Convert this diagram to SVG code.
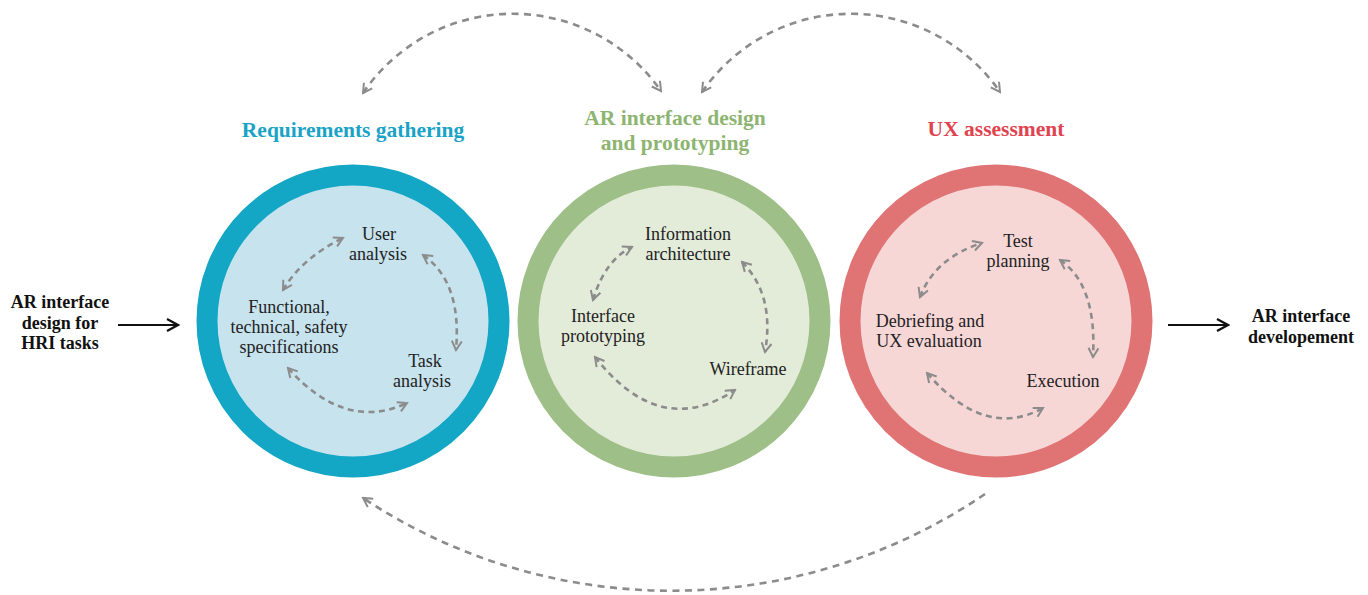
<svg xmlns="http://www.w3.org/2000/svg" width="1368" height="595" viewBox="0 0 1368 595">
<defs>
<style>
.in{font-family:"Liberation Serif",serif;font-size:18px;fill:#222;text-anchor:middle}
.io{font-family:"Liberation Serif",serif;font-size:18px;font-weight:bold;fill:#111;text-anchor:middle}
.ti{font-family:"Liberation Serif",serif;font-size:21.5px;font-weight:bold;text-anchor:middle}
.dash{fill:none;stroke:#8c8c8c;stroke-width:2.6;stroke-dasharray:6 4.5}
.big{fill:none;stroke:#8c8c8c;stroke-width:2.6;stroke-dasharray:7 5.5}
.blk{fill:none;stroke:#111;stroke-width:2.2}
</style>
<marker id="ah" viewBox="0 0 12 12" refX="10" refY="6" markerWidth="12" markerHeight="12" markerUnits="userSpaceOnUse" orient="auto-start-reverse">
<path d="M1,1 L10,6 L1,11" fill="none" stroke="#8c8c8c" stroke-width="2"/>
</marker>
<marker id="bh" viewBox="0 0 14 14" refX="12" refY="7" markerWidth="14" markerHeight="14" markerUnits="userSpaceOnUse" orient="auto">
<path d="M1,1 L12,7 L1,13" fill="none" stroke="#111" stroke-width="2.2"/>
</marker>
</defs>
<rect width="1368" height="595" fill="#fff"/>

<g id="req">
<circle cx="353" cy="321" r="146" fill="#C6E3EE" stroke="#13A6C5" stroke-width="21"/>
<text class="ti" x="353" y="137" fill="#1AA3C7">Requirements gathering</text>
<text class="in" x="379" y="240">User</text>
<text class="in" x="378" y="260">analysis</text>
<text class="in" x="289" y="313">Functional,</text>
<text class="in" x="289" y="333">technical, safety</text>
<text class="in" x="289" y="353">specifications</text>
<text class="in" x="425" y="367">Task</text>
<text class="in" x="422" y="387">analysis</text>
</g>

<g id="design">
<circle cx="674" cy="321" r="146" fill="#E3EBD9" stroke="#9EBF87" stroke-width="21"/>
<text class="ti" x="675" y="125" fill="#8DB571">AR interface design</text>
<text class="ti" x="675" y="150" fill="#8DB571">and prototyping</text>
<text class="in" x="688" y="240">Information</text>
<text class="in" x="688" y="260">architecture</text>
<text class="in" x="603" y="322">Interface</text>
<text class="in" x="603" y="342">prototyping</text>
<text class="in" x="748" y="375">Wireframe</text>
</g>

<g id="ux">
<circle cx="996" cy="321" r="146" fill="#F7D6D6" stroke="#E07474" stroke-width="21"/>
<text class="ti" x="996" y="136" fill="#E0434F">UX assessment</text>
<text class="in" x="1018" y="247">Test</text>
<text class="in" x="1018" y="267">planning</text>
<text class="in" x="930" y="327">Debriefing and</text>
<text class="in" x="929" y="347">UX evaluation</text>
<text class="in" x="1063" y="387">Execution</text>
</g>

<g id="input">
<text class="io" x="60" y="308">AR interface</text>
<text class="io" x="60" y="329">design for</text>
<text class="io" x="60" y="349">HRI tasks</text>
</g>

<g id="output">
<text class="io" x="1301" y="322">AR interface</text>
<text class="io" x="1301" y="343">developement</text>
</g>

<g id="connectors">
<line class="blk" x1="118" y1="325" x2="178" y2="325" marker-end="url(#bh)"/>
<line class="blk" x1="1168" y1="325" x2="1228" y2="325" marker-end="url(#bh)"/>

<path class="dash" d="M283,290 Q302,258 343,238" marker-start="url(#ah)" marker-end="url(#ah)"/>
<path class="dash" d="M423,255 Q462,282 456,350" marker-start="url(#ah)" marker-end="url(#ah)"/>
<path class="dash" d="M288,368 Q345,432 407,403" marker-start="url(#ah)" marker-end="url(#ah)"/>

<path class="dash" d="M593,300 Q605,260 632,247" marker-start="url(#ah)" marker-end="url(#ah)"/>
<path class="dash" d="M742,262 Q775,295 765,352" marker-start="url(#ah)" marker-end="url(#ah)"/>
<path class="dash" d="M595,357 Q660,440 735,390" marker-start="url(#ah)" marker-end="url(#ah)"/>

<path class="dash" d="M920,297 Q935,258 982,243" marker-start="url(#ah)" marker-end="url(#ah)"/>
<path class="dash" d="M1060,260 Q1097,285 1093,357" marker-start="url(#ah)" marker-end="url(#ah)"/>
<path class="dash" d="M927,373 Q985,440 1043,408" marker-start="url(#ah)" marker-end="url(#ah)"/>

<path class="big" d="M363,93 A181,181 0 0 1 661,91" marker-start="url(#ah)" marker-end="url(#ah)"/>
<path class="big" d="M702,92 A181,181 0 0 1 1000,92" marker-start="url(#ah)" marker-end="url(#ah)"/>
<path class="big" d="M985,494 A558,558 0 0 1 363,498" marker-end="url(#ah)"/>
</g>
</svg>
